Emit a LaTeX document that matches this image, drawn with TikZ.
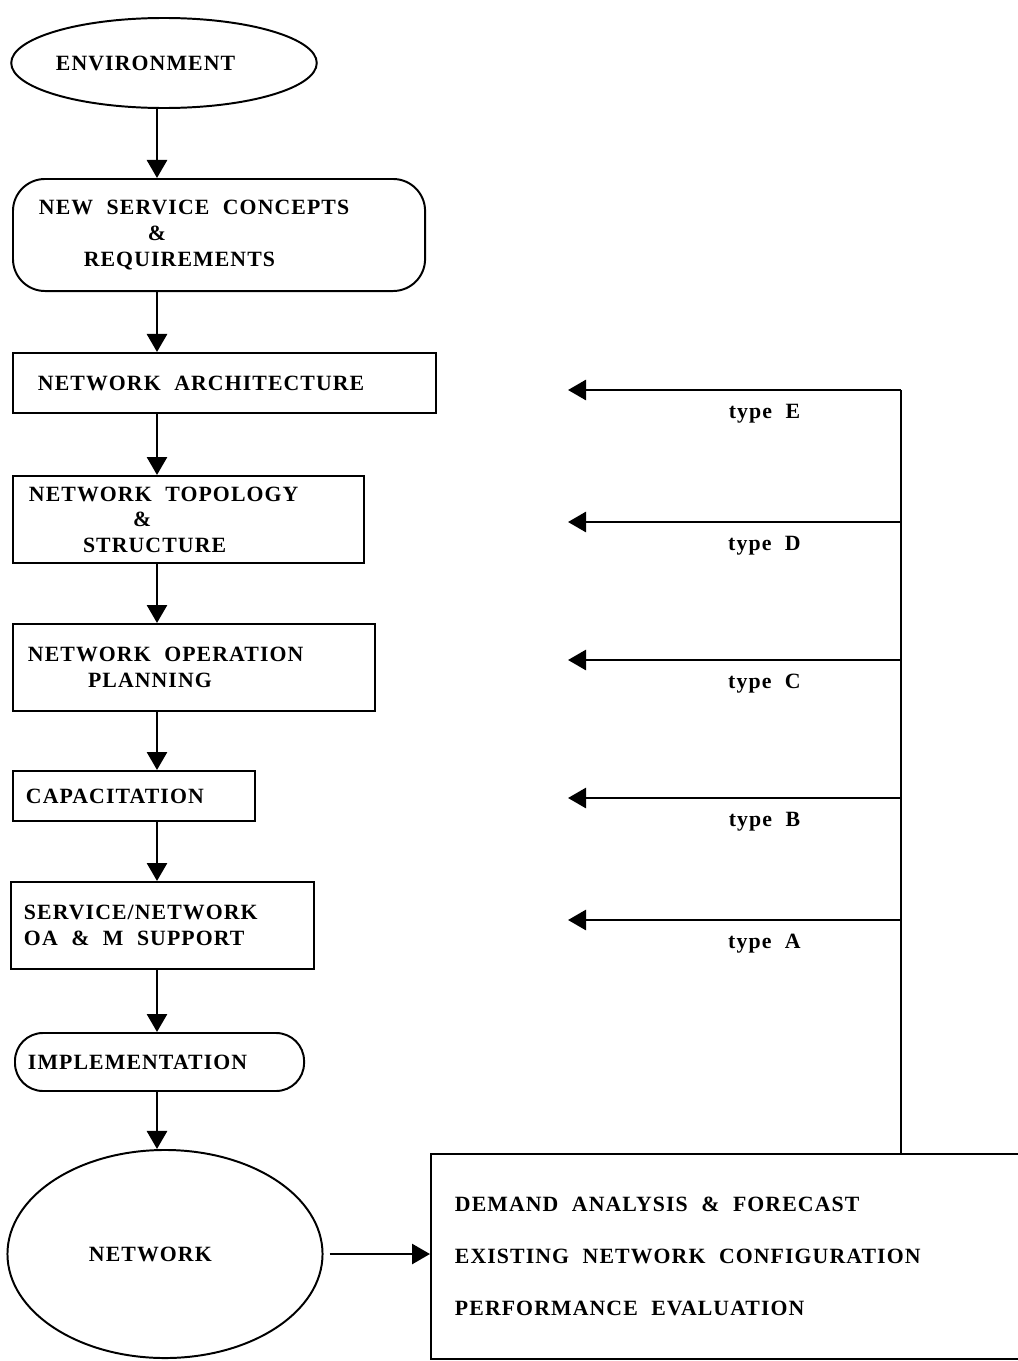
\documentclass[tikz,border=0pt]{standalone}
\usepackage{fontspec}
\setmainfont{Liberation Serif}[LetterSpace=5]
\usetikzlibrary{shapes.geometric}
\usetikzlibrary{arrows.meta}
\newcommand{\wordgap}{\spaceskip=0.62em plus 0.1em\relax\xspaceskip=\spaceskip}

\begin{document}
\begin{tikzpicture}[x=0.025cm, y=-0.025cm,
  every node/.style={font={\fontsize{15.5}{18.2}\selectfont\bfseries}, execute at begin node=\wordgap},
  stage/.style={draw, line width=1.4pt, rectangle, anchor=north west, align=left},
  arr/.style={line width=2pt, -{Triangle[length=0.45cm,width=0.5cm]}}]

% page frame
\clip (0,0) rectangle (1018,1361);

% Environment at the top
\node[ellipse, draw, line width=1.4pt, minimum width=7.625cm, minimum height=2.25cm,
  text width=5.4cm, align=left, inner sep=0pt] (env) at (164,63) {ENVIRONMENT};

% Planning stages
\node[stage, rounded corners=0.8cm, minimum height=2.8cm, inner xsep=0.65cm, text width=9cm]
  (nsc) at (12,178) {NEW SERVICE CONCEPTS\\ \hspace*{2.72cm}\&\\ \hspace*{1.12cm}REQUIREMENTS};
\node[stage, minimum height=1.5cm, inner xsep=0.625cm, text width=9.325cm]
  (arch) at (12,352) {NETWORK ARCHITECTURE};
\node[stage, minimum height=2.175cm, inner xsep=0.4cm, text width=7.975cm]
  (topo) at (12,475) {NETWORK TOPOLOGY\\ \hspace*{2.6cm}\&\\ \hspace*{1.35cm}STRUCTURE};
\node[stage, minimum height=2.175cm, inner xsep=0.375cm, text width=8.3cm]
  (oper) at (12,623) {NETWORK OPERATION\\ \hspace*{1.5cm}PLANNING};
\node[stage, minimum height=1.25cm, inner xsep=0.325cm, text width=5.4cm]
  (cap) at (12,770) {CAPACITATION};
\node[stage, minimum height=2.175cm, inner xsep=0.325cm, text width=6.925cm]
  (oam) at (10,881) {SERVICE/NETWORK\\ OA \& M SUPPORT};
\node[stage, rounded corners=0.7cm, minimum height=1.45cm, inner xsep=0.325cm, text width=6.575cm]
  (impl) at (14,1032) {IMPLEMENTATION};

% Network and its data
\node[ellipse, draw, line width=1.4pt, minimum width=7.875cm, minimum height=5.2cm,
  text width=3.8cm, align=left, inner sep=0pt] (net) at (165,1254) {NETWORK};
\node[stage, minimum height=5.125cm, inner xsep=0.6cm, text width=14.3cm]
  (data) at (430,1153) {DEMAND ANALYSIS \& FORECAST\\[0.665cm]
  EXISTING NETWORK CONFIGURATION\\[0.665cm]
  PERFORMANCE EVALUATION};

% Down the chain
\coordinate (spine) at (157,0);
\draw[arr] (spine |- env.south) -- (spine |- nsc.north);
\draw[arr] (spine |- nsc.south) -- (spine |- arch.north);
\draw[arr] (spine |- arch.south) -- (spine |- topo.north);
\draw[arr] (spine |- topo.south) -- (spine |- oper.north);
\draw[arr] (spine |- oper.south) -- (spine |- cap.north);
\draw[arr] (spine |- cap.south) -- (spine |- oam.north);
\draw[arr] (spine |- oam.south) -- (spine |- impl.north);
\draw[arr] (spine |- impl.south) -- (spine |- net.north);
\draw[arr] ([xshift=0.15cm]net.east) -- (data.west |- net.east);

% Feedback types
\coordinate (bus) at (901,390);
\coordinate (tipE) at (568,390);
\coordinate (tipD) at (568,522);
\coordinate (tipC) at (568,660);
\coordinate (tipB) at (568,798);
\coordinate (tipA) at (568,920);
\draw[line width=2pt] (bus |- data.north) -- (bus);
\draw[arr] (bus) -- (tipE) node[pos=0.41, below=6pt] {type E};
\draw[arr] (bus |- tipD) -- (tipD) node[pos=0.41, below=6pt] {type D};
\draw[arr] (bus |- tipC) -- (tipC) node[pos=0.41, below=6pt] {type C};
\draw[arr] (bus |- tipB) -- (tipB) node[pos=0.41, below=6pt] {type B};
\draw[arr] (bus |- tipA) -- (tipA) node[pos=0.41, below=6pt] {type A};

\end{tikzpicture}
\end{document}
